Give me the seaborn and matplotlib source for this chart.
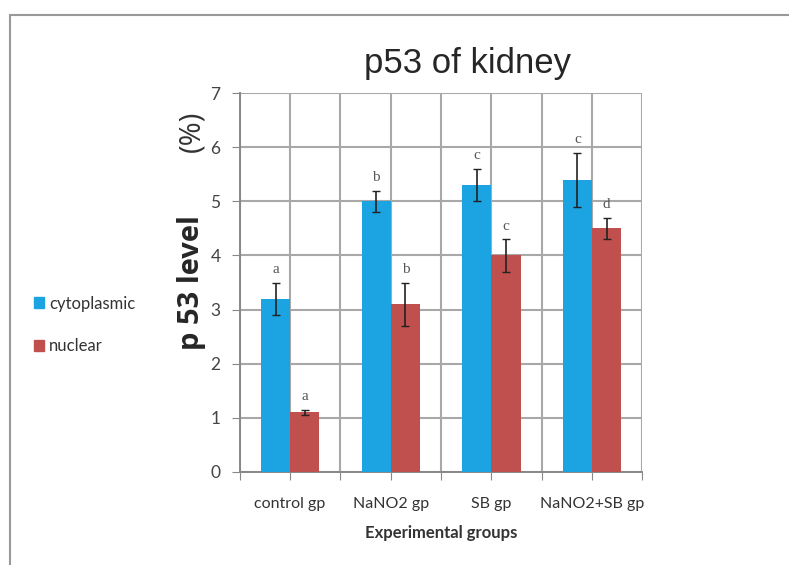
import matplotlib
matplotlib.use("Agg")
import matplotlib.pyplot as plt
from matplotlib.lines import Line2D
import seaborn as sns
import pandas as pd

groups = ["control gp", "NaNO2 gp", "SB gp", "NaNO2+SB gp"]
series = ["cytoplasmic", "nuclear"]
cyto_mean = [3.2, 5.0, 5.3, 5.4]
cyto_err = [0.3, 0.2, 0.3, 0.5]
nuc_mean = [1.1, 3.1, 4.0, 4.5]
nuc_err = [0.05, 0.4, 0.3, 0.2]
cyto_letters = ["a", "b", "c", "c"]
nuc_letters = ["a", "b", "c", "d"]
colors = {"cytoplasmic": "#1BA3E2", "nuclear": "#C0504D"}

df = pd.DataFrame({
    "group": groups * 2,
    "type": ["cytoplasmic"] * 4 + ["nuclear"] * 4,
    "value": cyto_mean + nuc_mean,
    "err": cyto_err + nuc_err,
    "letter": cyto_letters + nuc_letters,
})

sns.set_style("white")
plt.rcParams["font.family"] = ["Lato", "DejaVu Sans"]
fig = plt.figure(figsize=(7.89, 5.65), dpi=100)
ax = fig.add_axes([0.304, 0.165, 0.51, 0.67])

sns.barplot(data=df, x="group", y="value", hue="type", order=groups,
            hue_order=series, palette=colors, width=0.58, ax=ax,
            saturation=1, errorbar=None, legend=False, linewidth=0, zorder=3)

# error bars and letters, taken from the bar patches
for cont, s in zip(ax.containers, series):
    sub = df[df["type"] == s].set_index("group").loc[groups]
    for bar, (_, row) in zip(cont, sub.iterrows()):
        xc = bar.get_x() + bar.get_width() / 2
        ax.errorbar(xc, row["value"], yerr=row["err"], fmt="none",
                    ecolor="#222222", elinewidth=1.2, capsize=3, zorder=4)
        ax.text(xc, row["value"] + row["err"] + 0.12, row["letter"],
                ha="center", va="bottom", fontsize=11, color="#555555",
                family="Liberation Serif")

ax.set_ylim(0, 7)
ax.set_xlim(-0.5, 3.5)
ax.set_yticks(range(8))
ax.set_xticks([-0.5, 0, 0.5, 1, 1.5, 2, 2.5, 3, 3.5])
ax.set_xticklabels(["", groups[0], "", groups[1], "", groups[2], "", groups[3], ""])
ax.grid(True, color="#a8a8a8", linewidth=1.5, zorder=0)
ax.set_axisbelow(True)
for t in ax.xaxis.get_major_ticks()[1::2]:
    t.tick1line.set_visible(False)
ax.tick_params(axis="x", length=6, color="#888888", labelsize=11.5,
               labelcolor="#333333", pad=12, direction="out", bottom=True)
ax.tick_params(axis="y", length=6, color="#888888", labelsize=12.5,
               labelcolor="#444444", pad=8, direction="out", left=True)
for side in ["top", "right"]:
    ax.spines[side].set_visible(False)
for side in ["left", "bottom"]:
    ax.spines[side].set_color("#888888")
    ax.spines[side].set_linewidth(1.4)

ax.set_xlabel("Experimental groups", fontsize=12, fontweight="bold",
              color="#333333", labelpad=10)
ax.set_ylabel("")

fig.text(0.592, 0.887, "p53 of kidney", fontsize=25, family="Liberation Sans",
         ha="center", va="center")
fig.text(0.243, 0.50, "p 53 level", rotation=90, fontsize=21,
         fontweight="bold", family="Open Sans", ha="center", va="center")
fig.text(0.243, 0.768, "(%)", rotation=90, fontsize=21, family="Open Sans",
         ha="center", va="center", color="#333333")

handles = [plt.Rectangle((0, 0), 1, 1, color=colors[s]) for s in series]
fig.legend(handles, series, loc="center left", bbox_to_anchor=(0.024, 0.425),
           frameon=False, fontsize=12, handlelength=0.6, handleheight=0.6,
           handletextpad=0.3, labelspacing=1.6, labelcolor="#333333")

# outer frame lines
fig.add_artist(Line2D([0.013, 1.0], [0.973, 0.973], color="#999999", linewidth=1.5))
fig.add_artist(Line2D([0.013, 0.013], [0.0, 0.973], color="#999999", linewidth=1.5))

fig.savefig("out.png", dpi=100)
